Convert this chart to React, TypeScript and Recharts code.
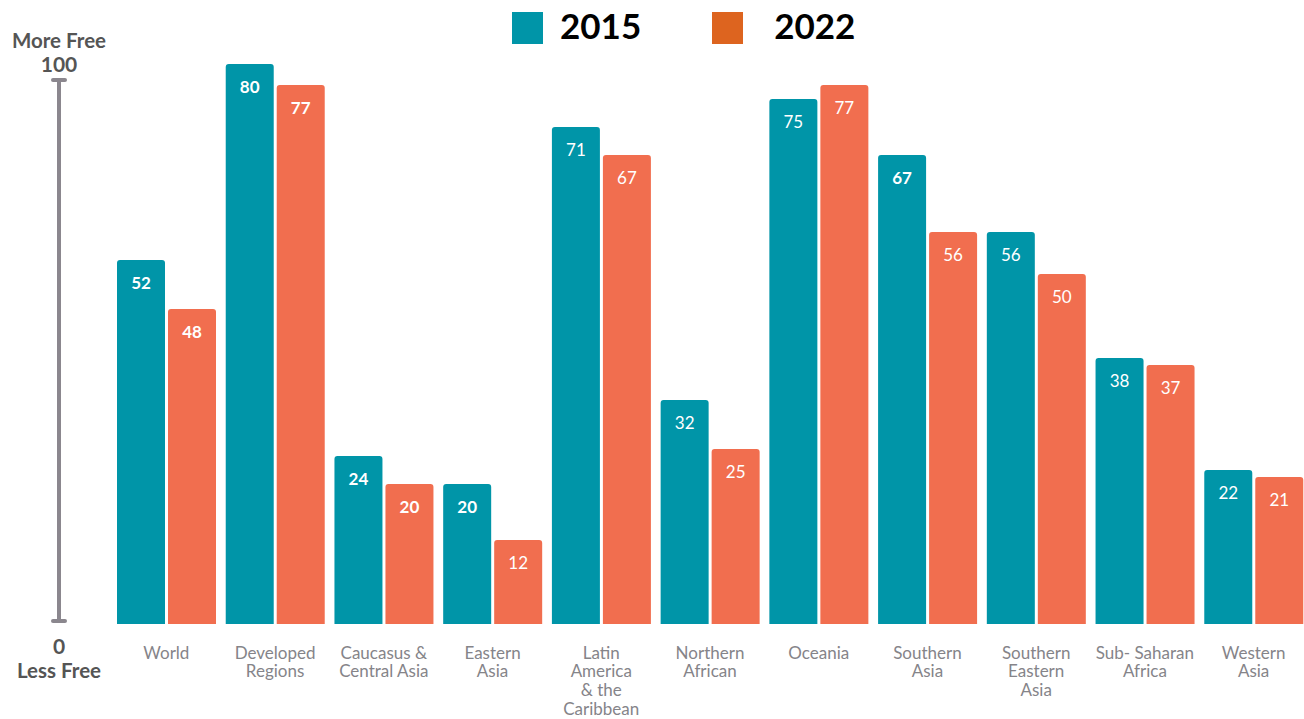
import { Bar, BarChart, LabelList, XAxis, YAxis } from "recharts";

const CATEGORIES = [
  "World",
  "Developed\nRegions",
  "Caucasus &\nCentral Asia",
  "Eastern\nAsia",
  "Latin\nAmerica\n& the\nCaribbean",
  "Northern\nAfrican",
  "Oceania",
  "Southern\nAsia",
  "Southern\nEastern\nAsia",
  "Sub- Saharan\nAfrica",
  "Western\nAsia",
];
// bar heights as drawn in the original
const VALUES_2015 = [52, 80, 24, 20, 71, 32, 75, 67, 56, 38, 22];
const VALUES_2022 = [45, 77, 20, 12, 67, 25, 77, 56, 50, 37, 21];
// figures printed on the bars (World 2022 is printed 48 but drawn shorter)
const LABELS_2015 = [52, 80, 24, 20, 71, 32, 75, 67, 56, 38, 22];
const LABELS_2022 = [48, 77, 20, 12, 67, 25, 77, 56, 50, 37, 21];
const SERIES_NAMES = ["2015", "2022"];

const TEAL = "#0095a8";
const CORAL = "#f16e4f";
const LEGEND_COLORS = ["#0095a8", "#dd641f"];
const FONT = "Lato, 'Open Sans', sans-serif";

// labels that the original sets in bold
const BOLD_2015 = [0, 1, 2, 3, 7];
const BOLD_2022 = [0, 1, 2];

const chartData = CATEGORIES.map((name, i) => ({
  name,
  y2015: VALUES_2015[i],
  y2022: VALUES_2022[i],
  l2015: LABELS_2015[i],
  l2022: LABELS_2022[i],
}));

function CategoryTick(props: any) {
  const { x, y, payload } = props;
  const lines = String(payload.value).split("\n");
  return (
    <text
      x={x}
      y={y}
      textAnchor="middle"
      fill="#858489"
      fontFamily={FONT}
      fontSize={17}
    >
      {lines.map((line, i) => (
        <tspan key={i} x={x} dy={i === 0 ? 34.5 : 18.8}>
          {line}
        </tspan>
      ))}
    </text>
  );
}

function makeValueLabel(boldIdx: number[]) {
  return (props: any) => {
    const { x, y, width, value, index } = props;
    return (
      <text
        x={x + width / 2}
        y={y + 22}
        textAnchor="middle"
        dominantBaseline="central"
        fill="#ffffff"
        fontFamily={FONT}
        fontSize={17}
        fontWeight={boldIdx.includes(index) ? 700 : 400}
      >
        {value}
      </text>
    );
  };
}

function FreedomScale() {
  const grey = "#8b878e";
  const text = "#555555";
  return (
    <svg
      width={120}
      height={719}
      style={{ position: "absolute", left: 0, top: 0 }}
    >
      <g fontFamily={FONT} fontWeight={700} fill={text} textAnchor="middle">
        <text x={59} y={48} fontSize={20.5}>
          More Free
        </text>
        <text x={59} y={72} fontSize={21}>
          100
        </text>
        <text x={59} y={654} fontSize={21}>
          0
        </text>
        <text x={59} y={678} fontSize={20.5}>
          Less Free
        </text>
      </g>
      <line x1={59} x2={59} y1={80} y2={622} stroke={grey} strokeWidth={4} />
      <line
        x1={53}
        x2={65}
        y1={80}
        y2={80}
        stroke={grey}
        strokeWidth={4}
        strokeLinecap="round"
      />
      <line
        x1={53}
        x2={65}
        y1={621}
        y2={621}
        stroke={grey}
        strokeWidth={4}
        strokeLinecap="round"
      />
    </svg>
  );
}

function TopLegend() {
  return (
    <div
      style={{
        position: "absolute",
        top: 0,
        left: 512,
        height: 54,
        display: "flex",
        alignItems: "center",
        fontFamily: FONT,
        fontWeight: 700,
        fontSize: 35,
        color: "#000",
      }}
    >
      {SERIES_NAMES.map((name, i) => (
        <span
          key={name}
          style={{
            display: "flex",
            alignItems: "center",
            marginRight: i === 0 ? 71 : 0,
          }}
        >
          <span
            style={{
              display: "inline-block",
              width: 31,
              height: 32,
              backgroundColor: LEGEND_COLORS[i],
              marginRight: i === 0 ? 17 : 31,
              position: "relative",
              top: 1,
            }}
          />
          <span style={{ position: "relative", top: -2 }}>{name}</span>
        </span>
      ))}
    </div>
  );
}

export default function App() {
  return (
    <div
      style={{
        position: "absolute",
        left: 0,
        top: 0,
        width: 1304,
        height: 719,
        overflow: "hidden",
        background: "#fff",
      }}
    >
      <BarChart
        width={1310}
        height={719}
        data={chartData}
        margin={{ top: 64, right: 2, left: 112, bottom: 0 }}
        barSize={48}
        barGap={3}
      >
        <XAxis
          dataKey="name"
          height={95}
          interval={0}
          axisLine={false}
          tickLine={false}
          tickSize={0}
          tickMargin={0}
          tick={<CategoryTick />}
        />
        <YAxis hide domain={[0, 80]} />
        <Bar
          dataKey="y2015"
          fill={TEAL}
          radius={[3, 3, 0, 0]}
          isAnimationActive={false}
        >
          <LabelList dataKey="l2015" content={makeValueLabel(BOLD_2015)} />
        </Bar>
        <Bar
          dataKey="y2022"
          fill={CORAL}
          radius={[3, 3, 0, 0]}
          isAnimationActive={false}
        >
          <LabelList dataKey="l2022" content={makeValueLabel(BOLD_2022)} />
        </Bar>
      </BarChart>
      <FreedomScale />
      <TopLegend />
    </div>
  );
}
